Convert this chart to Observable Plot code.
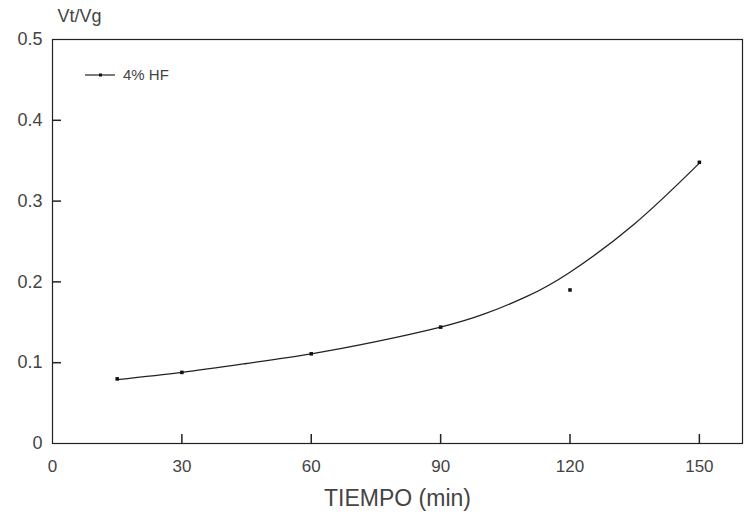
<!DOCTYPE html>
<html>
<head>
<meta charset="utf-8">
<script src="https://cdn.jsdelivr.net/npm/d3@7"></script>
<script src="https://cdn.jsdelivr.net/npm/@observablehq/plot@0.6"></script>
<style>
  html, body { margin: 0; padding: 0; background: #fff; }
  #wrap { position: relative; width: 745px; height: 520px; font-family: "Liberation Sans", Arial, sans-serif; }
  #legend { position: absolute; left: 84px; top: 66px; display: flex; align-items: center; font-size: 15px; color: #444; }
</style>
</head>
<body>
<div id="wrap">
  <div id="legend">
    <svg width="34" height="14"><line x1="1" y1="7" x2="31" y2="7" stroke="#222" stroke-width="1.2"/><rect x="15" y="5.5" width="3" height="3" fill="#111"/></svg>
    <span style="margin-left:5px">4% HF</span>
  </div>
</div>
<script>
// measured points
const tiempo = [15, 30, 60, 90, 120, 150];
const vtvg = [0.080, 0.088, 0.111, 0.144, 0.190, 0.348];
// smooth fitted curve as drawn in the figure
const curveT = [15, 30, 45, 60, 75, 90, 100, 110, 120, 135, 150];
const curveV = [0.079, 0.088, 0.099, 0.111, 0.126, 0.144, 0.160, 0.182, 0.212, 0.272, 0.347];
const xTicks = [0, 30, 60, 90, 120, 150];
const yTicks = [0, 0.1, 0.2, 0.3, 0.4, 0.5];

const pts = tiempo.map((t, i) => ({t, v: vtvg[i]}));
const fit = curveT.map((t, i) => ({t, v: curveV[i]}));

const chart = Plot.plot({
  width: 745,
  height: 520,
  marginTop: 39,
  marginBottom: 77,
  marginLeft: 52,
  marginRight: 3,
  style: {fontFamily: "Liberation Sans, Arial, sans-serif", color: "#444"},
  x: {domain: [0, 160]},
  y: {domain: [0, 0.5]},
  marks: [
    Plot.frame({stroke: "#222", strokeWidth: 1.2}),
    Plot.axisX({ticks: xTicks, tickSize: 0, tickPadding: 16, fontSize: 17,
      label: "TIEMPO (min)", labelAnchor: "center", labelArrow: "none", labelOffset: 62}),
    Plot.axisX({ticks: xTicks.slice(1), tickSize: -9, stroke: "#222", strokeWidth: 1.5, tickFormat: () => "", label: null}),
    Plot.axisY({ticks: yTicks, tickSize: 0, tickPadding: 10, fontSize: 18,
      tickFormat: d => d === 0 ? "0" : d.toFixed(1),
      label: "Vt/Vg", labelAnchor: "top", labelArrow: "none", labelOffset: -5}),
    Plot.axisY({ticks: yTicks.slice(1, -1), tickSize: -9, stroke: "#222", strokeWidth: 1.5, tickFormat: () => "", label: null}),
    Plot.line(fit, {x: "t", y: "v", curve: "natural", stroke: "#222", strokeWidth: 1.3}),
    Plot.dot(pts, {x: "t", y: "v", r: 2, fill: "#111", stroke: "none", symbol: "square"})
  ]
});
document.getElementById("wrap").prepend(chart);
chart.querySelectorAll("g[aria-label='x-axis label'] text").forEach(t => t.setAttribute("font-size", "23"));
chart.querySelectorAll("g[aria-label='y-axis label'] text").forEach(t => { t.setAttribute("font-size", "18"); t.setAttribute("dy", "0.3em"); });
</script>
</body>
</html>
